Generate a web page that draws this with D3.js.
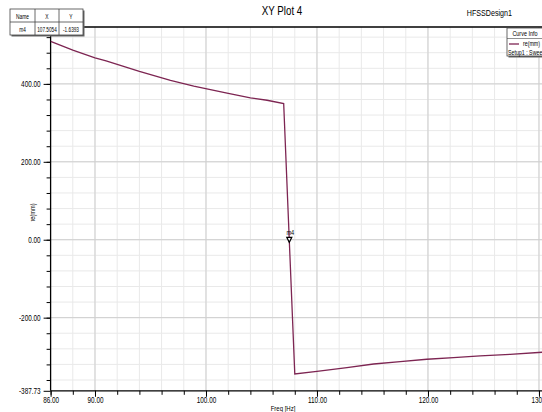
<!DOCTYPE html>
<html>
<head>
<meta charset="utf-8">
<script src="https://cdn.jsdelivr.net/npm/d3@7"></script>
<style>
  html, body { margin: 0; padding: 0; background: #fff; }
  svg { display: block; }
  text { font-family: "Liberation Sans", Arial, sans-serif; fill: #000; }
</style>
</head>
<body>
<svg id="chart" width="542" height="412"></svg>
<script>
// Sweep samples: frequency (Hz axis units) and re(mm)
const freq = [86, 88, 90, 91, 94, 96.8, 98.9, 101.9, 104, 105.5, 107, 108, 110, 112.7, 115.1, 117.5, 119.9, 122.3, 124.7, 127.4, 130.3];
const reVals = [509, 486.5, 467, 459, 432, 409, 394, 376, 364, 358, 349.5, -344.5, -338, -328.4, -319, -313, -306.8, -302.5, -298.3, -294, -288.8];

// Marker readout
const markerName = "m4";
const markerX = 107.5054;
const markerY = -1.6393;

// Axis ticks
const xMajorTicks = [86, 90, 100, 110, 120, 130];
const xTickLabels = ["86.00", "90.00", "100.00", "110.00", "120.00", "130.0"];
const yMajorTicks = [-387.73, -200, 0, 200, 400];
const yTickLabels = ["-387.73", "-200.00", "0.00", "200.00", "400.00"];

const xDomain = [86, 130.4];
const yDomain = [-387.73, 546];

const svg = d3.select("#chart");
const pLeft = 50.6, pRight = 543.4, pTop = 27, pBottom = 390.8;
const lineColor = "#7d2552";

const x = d3.scaleLinear().domain(xDomain).range([pLeft, pRight]);
const y = d3.scaleLinear().domain(yDomain).range([pBottom, pTop]);

// Squeeze a text horizontally (narrow-font look)
function condense(sel, f) {
  sel.each(function () {
    const w = this.getComputedTextLength();
    if (w > 0) {
      this.setAttribute("textLength", (w * f).toFixed(2));
      this.setAttribute("lengthAdjust", "spacingAndGlyphs");
    }
  });
  return sel;
}

// Grid: minor lines every 2 Hz / 40 mm, major at labelled values
const xMinor = d3.range(88, 131, 2);
const yMinor = d3.range(-360, 546, 40);
const xMajorGrid = [90, 100, 110, 120, 130];
const yMajorGrid = [-200, 0, 200, 400];

const grid = svg.append("g");
grid.selectAll(".vx").data(xMinor).join("line")
  .attr("x1", d => x(d)).attr("x2", d => x(d))
  .attr("y1", pTop).attr("y2", pBottom)
  .attr("stroke", "#e9e9e9").attr("stroke-width", 1);
grid.selectAll(".hy").data(yMinor).join("line")
  .attr("x1", pLeft).attr("x2", pRight)
  .attr("y1", d => y(d)).attr("y2", d => y(d))
  .attr("stroke", "#e9e9e9").attr("stroke-width", 1);
grid.selectAll(".vX").data(xMajorGrid).join("line")
  .attr("x1", d => x(d)).attr("x2", d => x(d))
  .attr("y1", pTop).attr("y2", pBottom)
  .attr("stroke", "#cfcfcf").attr("stroke-width", 1);
grid.selectAll(".hY").data(yMajorGrid).join("line")
  .attr("x1", pLeft).attr("x2", pRight)
  .attr("y1", d => y(d)).attr("y2", d => y(d))
  .attr("stroke", "#cfcfcf").attr("stroke-width", 1);

// Frame
svg.append("line").attr("x1", pLeft).attr("x2", 542).attr("y1", pTop).attr("y2", pTop)
  .attr("stroke", "#000").attr("stroke-width", 1.3);

// Bottom axis
const xAxisG = svg.append("g").attr("transform", `translate(0,${pBottom})`);
xAxisG.call(d3.axisBottom(x).tickValues(xMinor.concat([86])).tickSize(4).tickFormat(""));
xAxisG.select(".domain").attr("stroke-width", 1.3).attr("d", `M${pLeft},0H542`);
const xLabG = svg.append("g").attr("transform", `translate(0,${pBottom})`);
xLabG.call(d3.axisBottom(x).tickValues(xMajorTicks).tickSize(6)
  .tickFormat((d, i) => xTickLabels[i]));
xLabG.select(".domain").remove();
condense(xLabG.selectAll("text").attr("font-size", 8.5).attr("dy", "0.95em").attr("y", 4)
  .style("font-family", "'Liberation Sans',Arial,sans-serif"), 0.75);

// Left axis
const yAxisG = svg.append("g").attr("transform", `translate(${pLeft},0)`);
yAxisG.call(d3.axisLeft(y).tickValues(yMinor).tickSize(4).tickFormat(""));
yAxisG.select(".domain").attr("stroke-width", 1.3).attr("d", `M0,${pTop}V${pBottom}`);
const yLabG = svg.append("g").attr("transform", `translate(${pLeft},0)`);
yLabG.call(d3.axisLeft(y).tickValues(yMajorTicks).tickSize(7)
  .tickFormat((d, i) => yTickLabels[i]));
yLabG.select(".domain").remove();
condense(yLabG.selectAll("text").attr("font-size", 8.5).attr("x", -10)
  .style("font-family", "'Liberation Sans',Arial,sans-serif"), 0.75);

// Axis titles
condense(svg.append("text").attr("x", 283).attr("y", 411).attr("text-anchor", "middle")
  .attr("font-size", 8).text("Freq [Hz]"), 0.75);
condense(svg.append("text").attr("transform", `translate(35,${y(70)}) rotate(-90)`)
  .attr("text-anchor", "middle").attr("font-size", 7.5).text("re(mm)"), 0.75);

// Curve
const plot = svg.append("g");
plot.append("clipPath").attr("id", "clip").append("rect")
  .attr("x", pLeft).attr("y", pTop).attr("width", pRight - pLeft).attr("height", pBottom - pTop);
const pts = freq.map((f, i) => [f, reVals[i]]);
plot.append("path").datum(pts)
  .attr("clip-path", "url(#clip)")
  .attr("fill", "none").attr("stroke", lineColor).attr("stroke-width", 1.3)
  .attr("d", d3.line().x(d => x(d[0])).y(d => y(d[1])));

// Marker
const mx = x(markerX), my = y(markerY);
svg.append("path")
  .attr("d", `M${mx - 2.5},${my - 3}L${mx + 2.5},${my - 3}L${mx},${my + 2}Z`)
  .attr("fill", "#fff").attr("stroke", "#000").attr("stroke-width", 1.2);
condense(svg.append("text").attr("x", mx + 1).attr("y", my - 5).attr("text-anchor", "middle")
  .attr("font-size", 7).text(markerName), 0.8);

// Title
condense(svg.append("text").attr("x", 282).attr("y", 15).attr("text-anchor", "middle")
  .attr("font-size", 12.5).text("XY Plot 4"), 0.78);
condense(svg.append("text").attr("x", 512).attr("y", 16).attr("text-anchor", "end")
  .attr("font-size", 9.5).text("HFSSDesign1"), 0.75);

// Marker table
const tbl = svg.append("g");
const cols = [10, 35, 59, 83];
const rows = [9, 22, 35];
tbl.append("rect").attr("x", cols[0] + 1.5).attr("y", rows[0] + 1.5)
  .attr("width", cols[3] - cols[0]).attr("height", rows[2] - rows[0]).attr("fill", "#666");
tbl.append("rect").attr("x", cols[0]).attr("y", rows[0])
  .attr("width", cols[3] - cols[0]).attr("height", rows[2] - rows[0])
  .attr("fill", "#fff").attr("stroke", "#444").attr("stroke-width", 0.8);
tbl.append("line").attr("x1", cols[0]).attr("x2", cols[3]).attr("y1", rows[1]).attr("y2", rows[1])
  .attr("stroke", "#444").attr("stroke-width", 0.8);
[cols[1], cols[2]].forEach(c => tbl.append("line").attr("x1", c).attr("x2", c)
  .attr("y1", rows[0]).attr("y2", rows[2]).attr("stroke", "#444").attr("stroke-width", 0.8));
const headers = ["Name", "X", "Y"];
const values = [markerName, markerX.toFixed(4), markerY.toFixed(4)];
headers.forEach((h, i) => condense(tbl.append("text").attr("x", (cols[i] + cols[i + 1]) / 2).attr("y", 18.5)
  .attr("text-anchor", "middle").attr("font-size", 6.5).text(h), 0.75));
values.forEach((v, i) => condense(tbl.append("text").attr("x", (cols[i] + cols[i + 1]) / 2).attr("y", 31.5)
  .attr("text-anchor", "middle").attr("font-size", 6.5).text(v), 0.72));

// Legend box
const lg = svg.append("g");
lg.append("rect").attr("x", 508.5).attr("y", 29.5).attr("width", 40).attr("height", 28)
  .attr("fill", "#666");
lg.append("rect").attr("x", 507).attr("y", 28).attr("width", 40).attr("height", 28)
  .attr("fill", "#fff").attr("stroke", "#444").attr("stroke-width", 0.8);
lg.append("line").attr("x1", 507).attr("x2", 547).attr("y1", 38.5).attr("y2", 38.5)
  .attr("stroke", "#444").attr("stroke-width", 0.6);
condense(lg.append("text").attr("x", 525).attr("y", 36).attr("text-anchor", "middle")
  .attr("font-size", 7).text("Curve Info"), 0.78);
lg.append("line").attr("x1", 509).attr("x2", 519).attr("y1", 44).attr("y2", 44)
  .attr("stroke", lineColor).attr("stroke-width", 1.3);
condense(lg.append("text").attr("x", 523).attr("y", 46).attr("font-size", 6.6).text("re(mm)"), 0.8);
condense(lg.append("text").attr("x", 508).attr("y", 54.5).attr("font-size", 6.6).text("Setup1 : Sweep"), 0.8);
</script>
</body>
</html>
